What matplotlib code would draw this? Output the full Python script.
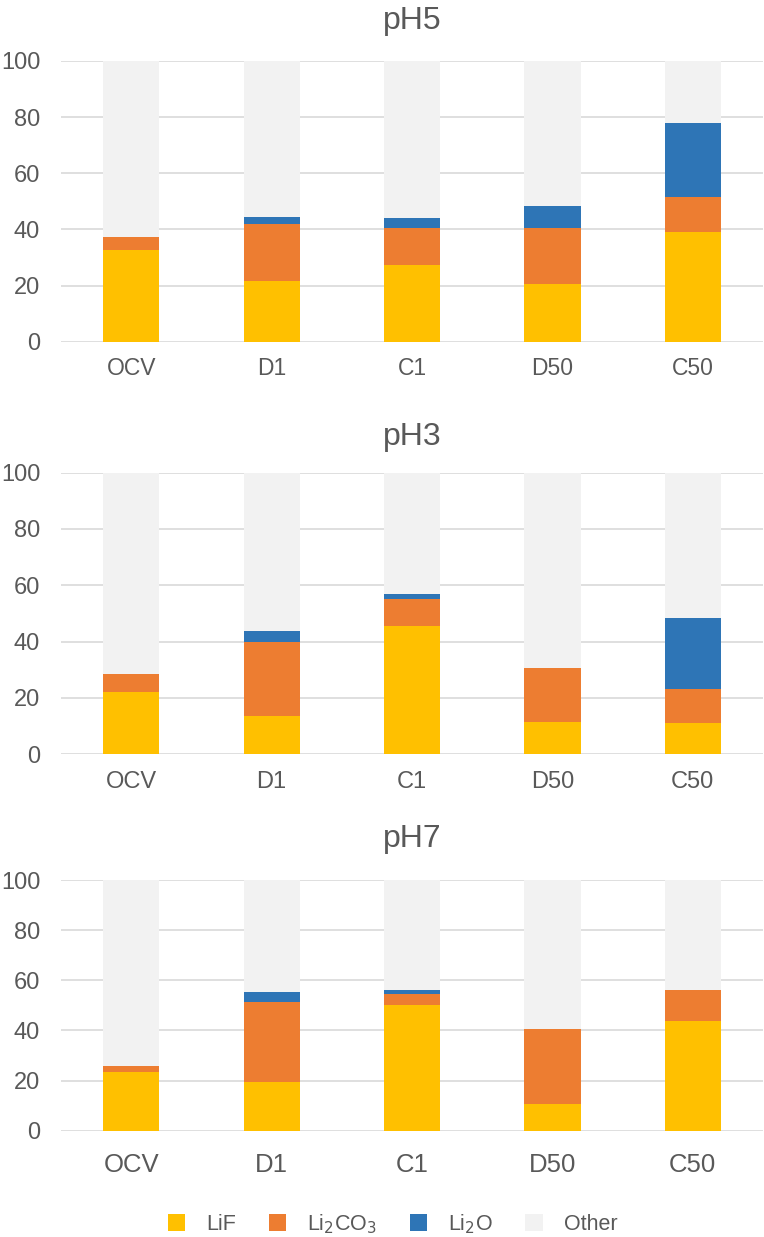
import matplotlib

matplotlib.use("Agg")
import matplotlib.pyplot as plt
import numpy as np

plt.rcParams["font.family"] = ["Liberation Sans", "DejaVu Sans"]

stages = ["OCV", "D1", "C1", "D50", "C50"]
panel_titles = ["pH5", "pH3", "pH7"]

# values in %, one list per panel
lif = {
    "pH5": [32.6, 21.6, 27.3, 20.4, 39.1],
    "pH3": [22.0, 13.6, 45.7, 11.6, 11.2],
    "pH7": [23.5, 19.4, 50.3, 10.6, 43.9],
}
li2co3 = {
    "pH5": [4.6, 20.3, 13.1, 20.2, 12.6],
    "pH3": [6.5, 26.4, 9.4, 19.1, 12.1],
    "pH7": [2.2, 31.9, 4.3, 30.0, 12.1],
}
li2o = {
    "pH5": [0.0, 2.6, 3.8, 7.9, 26.1],
    "pH3": [0.0, 3.8, 1.8, 0.0, 25.1],
    "pH7": [0.0, 3.9, 1.4, 0.0, 0.0],
}

series_labels = ["LiF", "Li$_2$CO$_3$", "Li$_2$O", "Other"]
colors = ["#FFC000", "#ED7D31", "#2E75B6", "#F2F2F2"]
text_color = "#595959"

fig = plt.figure(figsize=(7.64, 12.37), dpi=100)

# [left, bottom, width, height], title pad, x label size, x label pad
layout = [
    ([0.0798, 0.7238, 0.919, 0.2269], 23, 16.5, 11),
    ([0.0798, 0.3902, 0.919, 0.2277], 20, 17, 12),
    ([0.0798, 0.0859, 0.919, 0.2027], 24, 18.5, 16),
]

x = np.arange(len(stages))
width = 0.4

for title, (rect, title_pad, xsize, xpad) in zip(panel_titles, layout):
    ax = fig.add_axes(rect)
    a = np.array(lif[title])
    b = np.array(li2co3[title])
    c = np.array(li2o[title])
    other = 100 - a - b - c

    bottom = np.zeros(len(stages))
    for vals, color, label in zip([a, b, c, other], colors, series_labels):
        ax.bar(x, vals, width, bottom=bottom, color=color, label=label,
               linewidth=0, zorder=2)
        bottom = bottom + vals

    ax.set_xlim(-0.5, len(stages) - 0.5)
    ax.set_ylim(0, 100)
    ax.set_yticks(np.arange(0, 101, 20))
    ax.set_xticks(x)
    ax.set_xticklabels(stages)
    ax.yaxis.grid(True, color="#D9D9D9", linewidth=1.2, zorder=0)
    ax.set_axisbelow(True)
    for spine in ax.spines.values():
        spine.set_visible(False)
    ax.tick_params(axis="y", length=0, pad=15, labelsize=17,
                   labelcolor=text_color)
    ax.tick_params(axis="x", length=0, pad=xpad, labelsize=xsize,
                   labelcolor=text_color)
    ax.set_title(title, fontsize=23, color=text_color, pad=title_pad)

handles, labels = ax.get_legend_handles_labels()
fig.legend(
    handles,
    labels,
    loc="center",
    bbox_to_anchor=(0.514, 0.0105),
    ncol=4,
    frameon=False,
    fontsize=15.5,
    labelcolor=text_color,
    handlelength=0.8,
    handleheight=0.8,
    handletextpad=1.0,
    columnspacing=1.5,
)

fig.savefig("out.png", dpi=100)
